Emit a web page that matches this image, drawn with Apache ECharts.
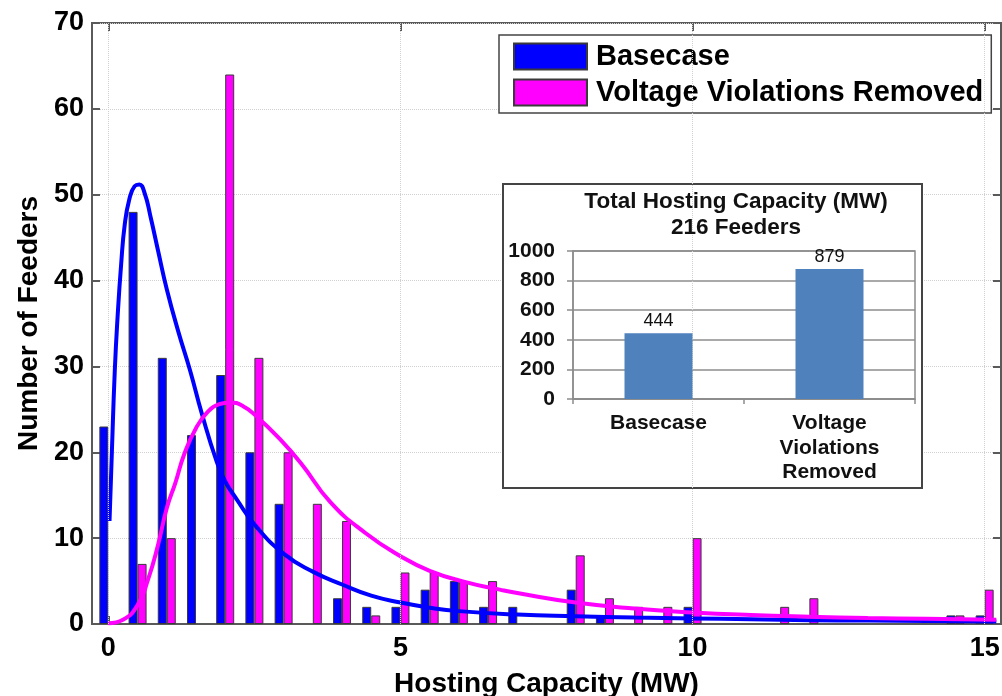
<!DOCTYPE html>
<html><head><meta charset="utf-8">
<script src="https://cdn.jsdelivr.net/npm/echarts@6/dist/echarts.min.js"></script>
<style>html,body{margin:0;padding:0;background:#fff}#c{width:1002px;height:696px}</style>
</head><body><div id="c"></div>
<script>
// ---- data ----
const bins = [0,0.5,1,1.5,2,2.5,3,3.5,4,4.5,5,5.5,6,6.5,7,7.5,8,8.5,9,9.5,10,10.5,11,11.5,12,12.5,13,13.5,14,14.5,15];
const basecase = [23,48,31,22,29,20,14,0,3,2,2,4,5,2,2,0,4,1,0,0,2,0,0,0,0,0,0,0,0,1,1];
const removed  = [0,7,10,0,64,31,20,14,12,1,6,6,5,5,0,0,8,3,2,2,10,0,0,2,3,0,0,0,0,1,4];
const baseFitX = [0.02,0.06,0.11,0.16,0.22,0.28,0.36,0.45,0.53,0.62,0.72,0.85,1.0,1.2,1.4,1.6,1.85,2.0,2.2,2.5,3.0,3.5,4.0,4.5,5.0,5.5,6.0,7.0,8.0,9.0,10.0,11.0,12.0,13.0,14.0,15.2];
const baseFitY = [12,20,29.5,36,42,46.5,49.5,51,51.2,50.2,47.5,43.5,39,34,29.5,24.5,19,16.6,14.5,11.6,8.2,6.1,4.6,3.3,2.5,1.9,1.5,1.1,0.9,0.75,0.65,0.55,0.45,0.4,0.35,0.3];
const remFitX = [0.0,0.25,0.5,0.68,0.85,1.0,1.15,1.3,1.5,1.7,1.9,2.08,2.3,2.55,2.9,3.3,3.8,4.4,5.0,5.5,6.1,6.7,7.0,8.0,9.0,10.0,11.0,12.0,13.0,14.0,15.2];
const remFitY = [0.1,0.5,2.2,5.2,9.2,13.5,16.5,19.8,22.8,24.7,25.6,25.8,25.4,24.1,21.8,18.7,14.2,10.6,7.9,6.2,4.9,4.0,3.6,2.5,1.8,1.35,1.05,0.85,0.7,0.6,0.5];
const xTicks = [0,5,10,15];
const seriesNames = ['Basecase','Voltage Violations Removed'];
const insetCats = ['Basecase','Voltage\nViolations\nRemoved'];
const insetVals = [444, 879];
const insetTitle = 'Total Hosting Capacity (MW)\n216 Feeders';
const xName = 'Hosting Capacity (MW)';
const yName = 'Number of Feeders';

const FF = '"Liberation Sans", Arial, sans-serif';
const toPairs = (xs, ys) => xs.map((x, i) => [x, ys[i]]);
const toBars = (vals) => bins.map((x, i) => vals[i] ? [x, vals[i]] : null).filter(Boolean);

const chart = echarts.init(document.getElementById('c'), null, {renderer: 'canvas'});
chart.setOption({
  animation: false,
  backgroundColor: '#fff',
  textStyle: {fontFamily: FF},
  grid: [
    {left: 92, right: 1, top: 23, bottom: 72, show: true, borderColor: '#5a5a5a', borderWidth: 2,
     backgroundColor: 'transparent', containLabel: false, outerBoundsMode: 'none'},
    {left: 573, width: 342, top: 251, height: 148, show: true, borderColor: '#8c8c8c', borderWidth: 1.5, z: 5,
     containLabel: false, outerBoundsMode: 'none'}
  ],
  legend: {
    data: [{name: seriesNames[0], icon: 'rect'}, {name: seriesNames[1], icon: 'rect'}],
    orient: 'vertical', left: 499, top: 35,
    itemWidth: 73, itemHeight: 26, itemGap: 7,
    padding: [7, 8, 6, 14],
    borderColor: '#444', borderWidth: 1.5, backgroundColor: '#fff',
    selectedMode: false,
    textStyle: {fontFamily: FF, fontSize: 29, fontWeight: 'bold', color: '#000', padding: [0, 0, 0, 4]}
  },
  xAxis: [
    {type: 'value', gridIndex: 0, min: -0.28, max: 15.28, position: 'bottom',
     axisLine: {onZero: false, lineStyle: {color: '#5a5a5a', width: 2}},
     axisTick: {inside: true, length: 8, customValues: xTicks, lineStyle: {color: '#5a5a5a', width: 2}},
     axisLabel: {customValues: xTicks, fontFamily: FF, fontSize: 27, fontWeight: 'bold', color: '#000', margin: 11},
     splitLine: {show: false},
     name: xName, nameLocation: 'middle', nameGap: 46,
     nameTextStyle: {fontFamily: FF, fontSize: 28, fontWeight: 'bold', color: '#000'}},
    {type: 'value', gridIndex: 0, min: -0.28, max: 15.28, position: 'top',
     axisLine: {show: false, onZero: false},
     axisTick: {inside: true, length: 8, customValues: xTicks, lineStyle: {color: '#5a5a5a', width: 2}},
     axisLabel: {show: false}, splitLine: {show: false}},
    {type: 'category', gridIndex: 1, data: insetCats, z: 5,
     axisLine: {onZero: false, lineStyle: {color: '#8c8c8c', width: 1.5}},
     axisTick: {show: true, length: 5, alignWithLabel: false, lineStyle: {color: '#8c8c8c', width: 1.5}},
     axisLabel: {fontFamily: FF, fontSize: 21, fontWeight: 'bold', color: '#111', lineHeight: 24.5, margin: 12, interval: 0}}
  ],
  yAxis: [
    {type: 'value', gridIndex: 0, min: 0, max: 70, interval: 10, position: 'left',
     axisLine: {show: true, onZero: false, lineStyle: {color: '#5a5a5a', width: 2}},
     axisTick: {show: true, inside: true, length: 8, lineStyle: {color: '#5a5a5a', width: 2}},
     axisLabel: {fontFamily: FF, fontSize: 27, fontWeight: 'bold', color: '#000', margin: 8},
     splitLine: {show: true, lineStyle: {color: '#d0d0d0', type: 'dotted', width: 1}},
     name: yName, nameLocation: 'middle', nameGap: 46,
     nameTextStyle: {fontFamily: FF, fontSize: 28, fontWeight: 'bold', color: '#000'}},
    {type: 'value', gridIndex: 0, min: 0, max: 70, interval: 10, position: 'right',
     axisLine: {show: false, onZero: false},
     axisTick: {show: true, inside: true, length: 8, lineStyle: {color: '#5a5a5a', width: 2}},
     axisLabel: {show: false}, splitLine: {show: false}},
    {type: 'value', gridIndex: 1, min: 0, max: 1000, interval: 200, z: 5,
     axisLine: {show: true, onZero: false, lineStyle: {color: '#8c8c8c', width: 1.5}},
     axisTick: {show: true, length: 6, lineStyle: {color: '#8c8c8c', width: 1.5}},
     axisLabel: {fontFamily: FF, fontSize: 21, fontWeight: 'bold', color: '#111', margin: 18, formatter: v => String(v)},
     splitLine: {show: true, lineStyle: {color: '#8c8c8c', width: 1.5}}}
  ],
  graphic: {elements: [
    {type: 'rect', z: 4, silent: true, shape: {x: 503, y: 184, width: 419, height: 304},
     style: {fill: '#fff', stroke: '#444', lineWidth: 2}},
    {type: 'text', z: 7, silent: true, x: 736, y: 189,
     style: {text: insetTitle, textAlign: 'center', fill: '#111', font: 'bold 22.5px ' + FF, lineHeight: 26}}
  ]},
  series: [
    {type: 'line', name: 'grid', xAxisIndex: 0, yAxisIndex: 0, data: [], z: 1, silent: true,
     markLine: {silent: true, symbol: 'none', label: {show: false},
       lineStyle: {color: '#d0d0d0', type: 'dotted', width: 1},
       data: xTicks.map(v => ({xAxis: v}))}},
    {type: 'bar', name: seriesNames[0], xAxisIndex: 0, yAxisIndex: 0, data: toBars(basecase),
     barWidth: 9, barGap: '0%', z: 2,
     itemStyle: {color: '#0000ff', borderColor: '#3a3a3a', borderWidth: 1}},
    {type: 'bar', name: seriesNames[1], xAxisIndex: 0, yAxisIndex: 0, data: toBars(removed),
     barWidth: 9, barGap: '0%', z: 2,
     itemStyle: {color: '#ff00ff', borderColor: '#3a3a3a', borderWidth: 1}},
    {type: 'line', name: 'Basecase fit', xAxisIndex: 0, yAxisIndex: 0, data: toPairs(baseFitX, baseFitY),
     smooth: true, showSymbol: false, symbol: 'none', z: 3,
     lineStyle: {color: '#0000ff', width: 4}},
    {type: 'line', name: 'Removed fit', xAxisIndex: 0, yAxisIndex: 0, data: toPairs(remFitX, remFitY),
     smooth: true, showSymbol: false, symbol: 'none', z: 3,
     lineStyle: {color: '#ff00ff', width: 4}},
    {type: 'bar', name: 'Total', xAxisIndex: 2, yAxisIndex: 2, data: insetVals, barWidth: 68, z: 6,
     itemStyle: {color: '#4f81bd'},
     label: {show: true, position: 'top', distance: 3, fontFamily: FF, fontSize: 18, color: '#111'}}
  ]
});
</script></body></html>
